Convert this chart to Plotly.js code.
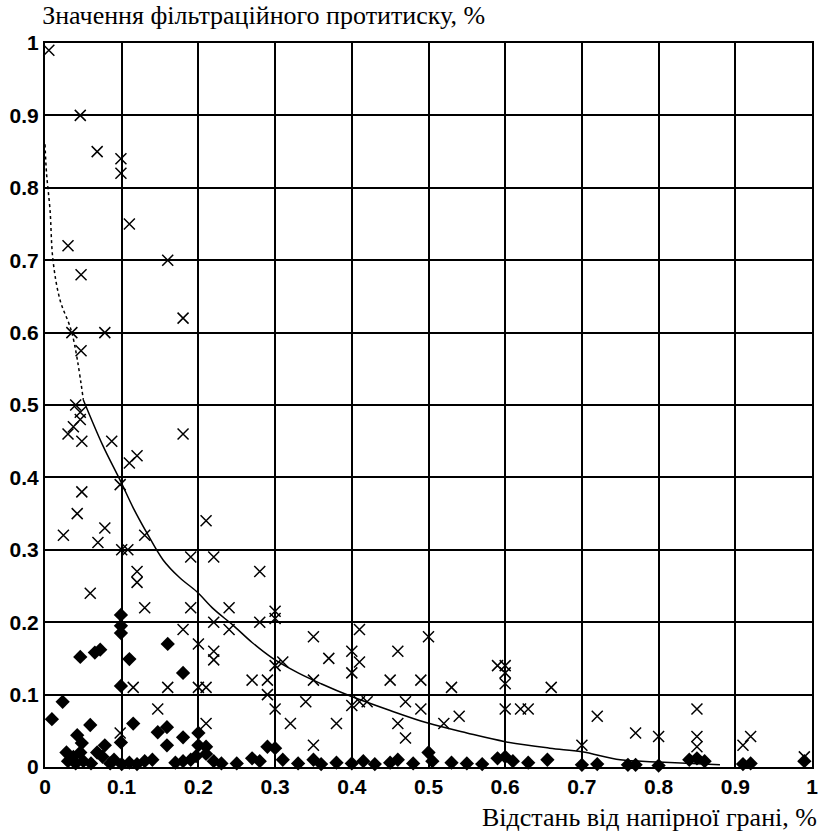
<!DOCTYPE html>
<html><head><meta charset="utf-8">
<script src="https://cdn.plot.ly/plotly-3.0.1.min.js"></script>
<style>html,body{margin:0;padding:0;background:#fff;}#chart{width:826px;height:832px;}</style>
</head><body><div id="chart"></div>
<script>
const crossX = [0.005,0.046,0.068,0.099,0.099,0.11,0.16,0.03,0.047,0.035,0.078,0.18,0.047,0.04,0.046,0.046,0.037,0.03,0.048,0.087,0.18,0.11,0.12,0.098,0.048,0.042,0.024,0.078,0.069,0.10,0.108,0.13,0.21,0.19,0.22,0.12,0.28,0.059,0.12,0.13,0.19,0.24,0.18,0.22,0.24,0.20,0.22,0.22,0.28,0.30,0.30,0.30,0.31,0.27,0.29,0.29,0.30,0.32,0.115,0.16,0.20,0.21,0.147,0.21,0.098,0.35,0.41,0.40,0.41,0.37,0.40,0.46,0.50,0.45,0.49,0.53,0.35,0.34,0.40,0.41,0.42,0.47,0.49,0.46,0.47,0.38,0.35,0.52,0.54,0.59,0.60,0.60,0.60,0.60,0.62,0.63,0.66,0.72,0.77,0.80,0.85,0.85,0.85,0.70,0.91,0.92,0.99];
const crossY = [0.99,0.90,0.85,0.84,0.82,0.75,0.70,0.72,0.68,0.60,0.60,0.62,0.575,0.50,0.49,0.48,0.47,0.46,0.45,0.45,0.46,0.42,0.43,0.39,0.38,0.35,0.32,0.33,0.31,0.30,0.30,0.32,0.34,0.29,0.29,0.27,0.27,0.24,0.255,0.22,0.22,0.22,0.19,0.20,0.19,0.17,0.16,0.148,0.20,0.215,0.205,0.14,0.145,0.12,0.12,0.10,0.08,0.06,0.11,0.11,0.11,0.11,0.08,0.06,0.047,0.18,0.19,0.16,0.145,0.15,0.13,0.16,0.18,0.12,0.12,0.11,0.12,0.09,0.085,0.09,0.09,0.09,0.08,0.06,0.04,0.06,0.03,0.06,0.07,0.14,0.14,0.13,0.115,0.08,0.08,0.08,0.11,0.07,0.047,0.042,0.08,0.042,0.028,0.03,0.03,0.042,0.014];

const diamondX = [0.099,0.099,0.099,0.046,0.065,0.072,0.11,0.16,0.18,0.099,0.023,0.009,0.059,0.115,0.147,0.159,0.18,0.159,0.2,0.099,0.042,0.29,0.30,0.028,0.037,0.046,0.048,0.068,0.078,0.075,0.2,0.21,0.21,0.197,0.03,0.04,0.05,0.06,0.085,0.09,0.1,0.11,0.12,0.13,0.14,0.17,0.18,0.19,0.22,0.23,0.25,0.27,0.28,0.31,0.33,0.35,0.36,0.38,0.40,0.415,0.43,0.45,0.46,0.48,0.50,0.505,0.53,0.55,0.57,0.59,0.60,0.61,0.63,0.655,0.70,0.72,0.76,0.77,0.80,0.84,0.85,0.86,0.91,0.92,0.99];
const diamondY = [0.21,0.195,0.185,0.152,0.158,0.162,0.149,0.17,0.13,0.112,0.09,0.066,0.058,0.06,0.048,0.055,0.041,0.03,0.047,0.034,0.044,0.028,0.026,0.02,0.014,0.02,0.033,0.02,0.03,0.014,0.03,0.028,0.018,0.015,0.008,0.005,0.008,0.005,0.005,0.01,0.004,0.006,0.004,0.008,0.01,0.006,0.008,0.01,0.008,0.005,0.005,0.012,0.008,0.01,0.005,0.01,0.004,0.006,0.005,0.008,0.004,0.006,0.01,0.005,0.02,0.008,0.006,0.005,0.004,0.012,0.014,0.008,0.006,0.01,0.003,0.004,0.003,0.003,0.002,0.01,0.012,0.008,0.004,0.005,0.008];

const curveDotX = [0.0,0.002,0.0065,0.0104,0.0196,0.035,0.05];
const curveDotY = [0.86,0.82,0.77,0.70,0.645,0.60,0.507];
const curveX = [0.05,0.075,0.098,0.115,0.133,0.154,0.175,0.198,0.22,0.245,0.27,0.297,0.33,0.36,0.398,0.45,0.498,0.55,0.60,0.658,0.70,0.75,0.80,0.88];
const curveY = [0.507,0.445,0.396,0.358,0.323,0.286,0.262,0.242,0.218,0.196,0.172,0.15,0.13,0.115,0.098,0.078,0.061,0.047,0.035,0.026,0.021,0.01,0.007,0.003];

const tickVals = [0,0.1,0.2,0.3,0.4,0.5,0.6,0.7,0.8,0.9,1];
const tickText = ['0','0.1','0.2','0.3','0.4','0.5','0.6','0.7','0.8','0.9','1'];

const titleText = 'Значення фільтраційного протитиску, %';
const xTitleText = 'Відстань від напірної грані, %';

const traces = [
  {x: curveDotX, y: curveDotY, mode:'lines', type:'scatter', line:{color:'#000', width:1.5, dash:'dot', shape:'spline'}, hoverinfo:'skip'},
  {x: curveX, y: curveY, mode:'lines', type:'scatter', line:{color:'#000', width:1.5, shape:'spline'}, hoverinfo:'skip'},
  {x: diamondX, y: diamondY, mode:'markers', type:'scatter', marker:{symbol:'diamond', size:11, color:'#000'}, cliponaxis:false},
  {x: crossX, y: crossY, mode:'markers', type:'scatter', marker:{symbol:'x-thin', size:11, color:'#000', line:{color:'#000', width:1.5}}, cliponaxis:false}
];

const layout = {
  width:826, height:832,
  margin:{l:45, r:14, t:43, b:65},
  paper_bgcolor:'#fff', plot_bgcolor:'#fff',
  showlegend:false,
  title:{text:titleText, font:{family:'Liberation Serif', size:26, color:'#000'}, x:0.051, xanchor:'left', xref:'container', y:0.982, yanchor:'middle', yref:'container'},
  xaxis:{
    range:[0,1], tickmode:'array', tickvals:tickVals, ticktext:tickText,
    tickfont:{family:'Liberation Sans', size:21, color:'#000', weight:'bold'},
    showgrid:true, gridcolor:'#000', gridwidth:2,
    zeroline:false, showline:true, linecolor:'#000', linewidth:2, mirror:true, ticks:''
  },
  yaxis:{
    range:[0,1], tickmode:'array', tickvals:tickVals, ticktext:tickText,
    tickfont:{family:'Liberation Sans', size:21, color:'#000', weight:'bold'},
    showgrid:true, gridcolor:'#000', gridwidth:2,
    zeroline:false, showline:true, linecolor:'#000', linewidth:2, mirror:true, ticks:''
  },
  annotations:[
    {text:xTitleText, xref:'paper', yref:'paper', x:1, y:0, yshift:-50, xshift:7, xanchor:'right', yanchor:'middle', showarrow:false,
     font:{family:'Liberation Serif', size:26, color:'#000'}}
  ]
};

Plotly.newPlot('chart', traces, layout, {displayModeBar:false, staticPlot:true});
</script></body></html>
